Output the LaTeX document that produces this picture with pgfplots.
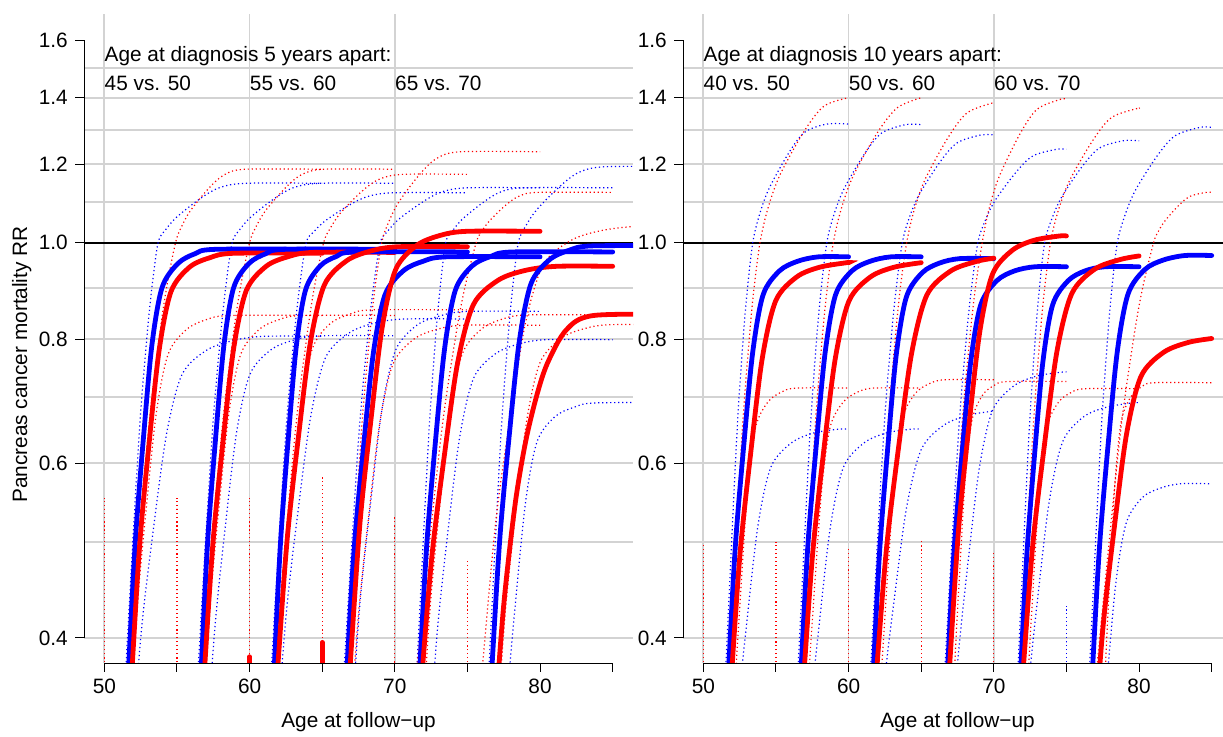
\documentclass[border=0pt]{standalone}
\usepackage{fontspec}
\setmainfont{Liberation Sans}
\usepackage{pgfplots}
\pgfplotsset{compat=1.18}
\definecolor{gridgray}{RGB}{211,211,211}
\tikzset{
  mythk/.style={line width=2.4pt, line cap=round, smooth},
  mytB/.style={mythk, blue},
  mytR/.style={mythk, red},
  mydt/.style={line width=0.6pt, dash pattern=on 0.6pt off 1.4pt, smooth},
  mydB/.style={mydt, blue},
  mydR/.style={mydt, red},
}
\begin{document}
\fontsize{10.4}{12.5}\selectfont
\begin{tikzpicture}
\useasboundingbox (0,0) rectangle (611.5pt,368pt);
% ================= LEFT PANEL =================
\begin{axis}[at={(42pt,36.5pt)}, anchor=south west,
    scale only axis, width=274.5pt, height=324.5pt,
    ymode=log, xmin=48.6, xmax=86.4, ymin=0.3775, ymax=1.70,
    axis x line*=bottom, axis y line*=left,
    axis line style={draw=none},
    tick align=outside, major tick length=4.5pt,
    tick style={black, line width=0.5pt},
    xtick={50,55,60,65,70,75,80,85},
    xticklabels={50,,60,,70,,80,},
    ytick={0.4,0.6,0.8,1.0,1.2,1.4,1.6},
    yticklabels={0.4,0.6,0.8,1.0,1.2,1.4,1.6},
    extra x ticks={50,60,70}, extra x tick labels={},
    extra y ticks={0.4,0.5,0.6,0.7,0.8,0.9,1.1,1.2,1.3,1.4,1.5}, extra y tick labels={},
    extra tick style={grid=major, major tick length=0pt},
    major grid style={draw=gridgray, line width=0.85pt},
    after end axis/.code={
      \draw[line width=0.5pt] (axis cs:50,0.3775) -- (axis cs:85,0.3775);
      \draw[line width=0.5pt] (axis cs:48.6,0.4) -- (axis cs:48.6,1.6);
    }]
\addplot[black, line width=0.7pt, no marks] coordinates {(48.6,1) (86.4,1)};
% spikes
\addplot[mydR, no marks] coordinates {(50,0.3) (50,0.554)};
\addplot[mydR, no marks] coordinates {(55,0.3) (55,0.554)};
\addplot[mydR, no marks] coordinates {(60,0.3) (60,0.554)};
\addplot[mydR, no marks] coordinates {(65,0.3) (65,0.581)};
\addplot[mydR, no marks] coordinates {(70,0.3) (70,0.532)};
\addplot[mydR, no marks] coordinates {(75,0.3) (75,0.481)};
% upper CIs
\addplot[mydB, no marks] coordinates {(51.15,0.30) (51.50,0.378) (52.37,0.633) (52.92,0.8) (53.27,0.9) (53.7,1.0) (54.2,1.030) (55.0,1.062) (56.6,1.108) (57.9,1.136) (59.7,1.148) (65,1.148)};
\addplot[mydR, no marks] coordinates {(51.23,0.30) (51.73,0.378) (52.98,0.633) (53.77,0.8) (54.28,0.9) (54.9,1.0) (55.3,1.037) (55.94,1.078) (57.22,1.136) (58.26,1.171) (59.7,1.186) (65,1.186)};
\addplot[mydB, no marks] coordinates {(56.12,0.30) (56.48,0.378) (57.40,0.633) (57.98,0.8) (58.35,0.9) (58.8,1.0) (59.3,1.030) (60.1,1.062) (61.7,1.108) (63.0,1.136) (64.8,1.148) (70,1.148)};
\addplot[mydR, no marks] coordinates {(56.23,0.30) (56.74,0.378) (58.03,0.633) (58.84,0.8) (59.36,0.9) (60.0,1.0) (60.43,1.037) (61.11,1.078) (62.47,1.136) (63.57,1.171) (65.1,1.186) (70,1.186)};
\addplot[mydB, no marks] coordinates {(61.14,0.30) (61.52,0.378) (62.46,0.633) (63.05,0.8) (63.43,0.9) (63.9,1.0) (64.4,1.025) (65.2,1.052) (66.8,1.090) (68.1,1.113) (69.9,1.123) (75,1.123)};
\addplot[mydR, no marks] coordinates {(61.25,0.30) (61.77,0.378) (63.09,0.633) (63.92,0.8) (64.45,0.9) (65.1,1.0) (65.55,1.034) (66.27,1.072) (67.71,1.126) (68.88,1.158) (70.5,1.172) (75,1.172)};
\addplot[mydB, no marks] coordinates {(66.14,0.30) (66.53,0.378) (67.50,0.633) (68.12,0.8) (68.52,0.9) (69.0,1.0) (69.5,1.027) (70.3,1.057) (71.9,1.099) (73.2,1.125) (75.0,1.136) (80,1.136)};
\addplot[mydR, no marks] coordinates {(66.34,0.30) (66.72,0.378) (67.66,0.633) (68.25,0.8) (68.63,0.9) (69.1,1.0) (69.55,1.047) (70.27,1.099) (71.71,1.172) (72.88,1.216) (74.5,1.235) (80,1.235)};
\addplot[mydB, no marks] coordinates {(71.24,0.30) (71.54,0.378) (72.32,0.633) (72.80,0.8) (73.12,0.9) (73.5,1.0) (73.95,1.027) (74.67,1.057) (76.11,1.099) (77.28,1.125) (78.9,1.136) (85,1.136)};
\addplot[mydR, no marks] coordinates {(70.92,0.30) (71.55,0.378) (73.15,0.633) (74.16,0.8) (74.81,0.9) (75.6,1.0) (75.95,1.025) (76.51,1.052) (77.63,1.091) (78.54,1.114) (79.8,1.124) (85,1.124)};
\addplot[mydB, no marks] coordinates {(76.19,0.30) (76.50,0.378) (77.29,0.633) (77.79,0.8) (78.11,0.9) (78.5,1.0) (79.0,1.039) (79.8,1.081) (81.4,1.141) (82.7,1.178) (84.5,1.193) (90,1.193)};
\addplot[mydR, no marks] coordinates {(75.59,0.312) (76.2,0.399) (76.99,0.530) (77.95,0.668) (79.0,0.831) (80.23,0.951) (82.15,1.006) (84.25,1.029) (86.7,1.039) (90,1.039)};
% lower CIs
\addplot[mydR, no marks] coordinates {(51.35,0.2535) (51.75,0.3245) (52.27,0.431) (52.90,0.543) (53.59,0.676) (54.40,0.773) (55.66,0.818) (57.04,0.837) (58.65,0.845) (65,0.845)};
\addplot[mydB, no marks] coordinates {(51.38,0.2415) (51.9,0.309) (52.58,0.411) (53.4,0.518) (54.3,0.644) (55.35,0.737) (57.0,0.779) (58.8,0.797) (60.9,0.805) (65,0.805)};
\addplot[mydR, no marks] coordinates {(56.35,0.2535) (56.75,0.3245) (57.27,0.431) (57.90,0.543) (58.59,0.676) (59.40,0.773) (60.66,0.818) (62.04,0.837) (63.65,0.845) (70,0.845)};
\addplot[mydB, no marks] coordinates {(56.58,0.242) (57.03,0.3095) (57.62,0.411) (58.33,0.518) (59.11,0.645) (60.02,0.737) (61.45,0.780) (63.01,0.798) (64.83,0.806) (70,0.806)};
\addplot[mydR, no marks] coordinates {(61.42,0.257) (61.8,0.329) (62.30,0.437) (62.9,0.550) (63.56,0.685) (64.33,0.783) (65.54,0.829) (66.86,0.847) (68.4,0.856) (75,0.856)};
\addplot[mydB, no marks] coordinates {(61.39,0.251) (61.9,0.322) (62.55,0.427) (63.35,0.539) (64.22,0.670) (65.24,0.767) (66.83,0.811) (68.57,0.830) (70.6,0.838) (75,0.838)};
\addplot[mydR, no marks] coordinates {(66.45,0.248) (66.9,0.317) (67.49,0.421) (68.2,0.531) (68.98,0.661) (69.89,0.756) (71.32,0.800) (72.88,0.818) (74.7,0.826) (80,0.826)};
\addplot[mydB, no marks] coordinates {(66.56,0.256) (67.02,0.3275) (67.61,0.435) (68.34,0.548) (69.13,0.682) (70.06,0.780) (71.51,0.826) (73.09,0.844) (74.94,0.853) (80,0.853)};
\addplot[mydR, no marks] coordinates {(71.48,0.254) (71.9,0.325) (72.44,0.431) (73.1,0.544) (73.82,0.677) (74.66,0.774) (75.98,0.819) (77.42,0.838) (79.1,0.846) (85,0.846)};
\addplot[mydB, no marks] coordinates {(71.85,0.240) (72.32,0.307) (72.93,0.407) (73.67,0.514) (74.48,0.639) (75.43,0.731) (76.91,0.773) (78.53,0.791) (80.42,0.799) (85,0.799)};
\addplot[mydR, no marks] coordinates {(76.55,0.248) (77.0,0.318) (77.59,0.422) (78.3,0.532) (79.08,0.662) (79.99,0.757) (81.42,0.801) (82.98,0.819) (84.8,0.827) (90,0.827)};
\addplot[mydB, no marks] coordinates {(76.89,0.207) (77.27,0.265) (77.77,0.352) (78.37,0.444) (79.03,0.552) (79.8,0.631) (81.01,0.668) (82.33,0.683) (83.87,0.69) (90,0.69)};
% thick estimates
\addplot[mytR, no marks] coordinates {(60,0.3) (60,0.383)};
\addplot[mytR, no marks] coordinates {(65,0.3) (65,0.396)};
\addplot[mytB, no marks] coordinates {(51.34,0.2955) (51.69,0.378) (52.14,0.502) (52.68,0.633) (53.27,0.788) (53.97,0.901) (55.06,0.953) (56.24,0.975) (57.63,0.985) (65,0.985)};
\addplot[mytR, no marks] coordinates {(51.51,0.293) (51.92,0.375) (52.44,0.498) (53.08,0.628) (53.78,0.781) (54.59,0.893) (55.86,0.945) (57.26,0.966) (58.88,0.976) (65,0.976)};
\addplot[mytB, no marks] coordinates {(56.35,0.2955) (56.69,0.378) (57.12,0.502) (57.65,0.633) (58.23,0.788) (58.90,0.901) (59.95,0.953) (61.11,0.975) (62.45,0.985) (70,0.985)};
\addplot[mytR, no marks] coordinates {(56.49,0.293) (56.92,0.376) (57.48,0.499) (58.16,0.629) (58.90,0.782) (59.77,0.895) (61.14,0.947) (62.62,0.968) (64.36,0.978) (70,0.978)};
\addplot[mytB, no marks] coordinates {(61.38,0.294) (61.71,0.376) (62.13,0.499) (62.64,0.629) (63.20,0.783) (63.85,0.896) (64.87,0.948) (65.99,0.969) (67.29,0.979) (75,0.979)};
\addplot[mytR, no marks] coordinates {(61.49,0.297) (61.98,0.381) (62.60,0.505) (63.36,0.637) (64.18,0.793) (65.15,0.907) (66.67,0.959) (68.32,0.981) (70.26,0.991) (75,0.991)};
\addplot[mytB, no marks] coordinates {(66.30,0.290) (66.70,0.372) (67.21,0.494) (67.84,0.622) (68.52,0.774) (69.32,0.886) (70.58,0.937) (71.94,0.958) (73.54,0.968) (80,0.968)};
\addplot[mytR, no marks] coordinates {(66.56,0.308) (67.02,0.394) (67.61,0.524) (68.34,0.660) (69.13,0.822) (70.06,0.940) (71.51,0.994) (73.09,1.017) (74.94,1.027) (80,1.027)};
\addplot[mytB, no marks] coordinates {(71.36,0.294) (71.73,0.376) (72.21,0.499) (72.79,0.629) (73.43,0.783) (74.17,0.896) (75.33,0.948) (76.61,0.969) (78.09,0.979) (85,0.979)};
\addplot[mytR, no marks] coordinates {(71.31,0.284) (71.85,0.364) (72.55,0.483) (73.40,0.609) (74.33,0.758) (75.42,0.867) (77.12,0.917) (78.98,0.938) (81.15,0.947) (85,0.947)};
\addplot[mytB, no marks] coordinates {(76.32,0.298) (76.72,0.381) (77.24,0.506) (77.87,0.638) (78.56,0.794) (79.37,0.909) (80.63,0.961) (82.01,0.983) (83.62,0.993) (90,0.993)};
\addplot[mytR, no marks] coordinates {(76.36,0.254) (76.86,0.325) (77.50,0.432) (78.28,0.545) (79.0,0.63) (79.75,0.70) (80.5,0.756) (81.8,0.817) (83.7,0.845) (90,0.847)};
% texts
\node[anchor=base west, inner sep=0pt] at (axis cs:50,1.522) {Age at diagnosis 5 years apart:};
\node[anchor=base west, inner sep=0pt] at (axis cs:50,1.423) {45 vs. 50};
\node[anchor=base west, inner sep=0pt] at (axis cs:60,1.423) {55 vs. 60};
\node[anchor=base west, inner sep=0pt] at (axis cs:70,1.423) {65 vs. 70};
\end{axis}
% ================= RIGHT PANEL =================
\begin{axis}[at={(341.5pt,36.5pt)}, anchor=south west,
    scale only axis, width=274.5pt, height=324.5pt,
    ymode=log, xmin=48.6, xmax=86.4, ymin=0.3775, ymax=1.70,
    axis x line*=bottom, axis y line*=left,
    axis line style={draw=none},
    tick align=outside, major tick length=4.5pt,
    tick style={black, line width=0.5pt},
    xtick={50,55,60,65,70,75,80,85},
    xticklabels={50,,60,,70,,80,},
    ytick={0.4,0.6,0.8,1.0,1.2,1.4,1.6},
    yticklabels={0.4,0.6,0.8,1.0,1.2,1.4,1.6},
    extra x ticks={50,60,70}, extra x tick labels={},
    extra y ticks={0.4,0.5,0.6,0.7,0.8,0.9,1.1,1.2,1.3,1.4,1.5}, extra y tick labels={},
    extra tick style={grid=major, major tick length=0pt},
    major grid style={draw=gridgray, line width=0.85pt},
    after end axis/.code={
      \draw[line width=0.5pt] (axis cs:50,0.3775) -- (axis cs:85,0.3775);
      \draw[line width=0.5pt] (axis cs:48.6,0.4) -- (axis cs:48.6,1.6);
    }]
\addplot[black, line width=0.7pt, no marks] coordinates {(48.6,1) (86.4,1)};
% spikes
\addplot[mydR, no marks] coordinates {(50,0.3) (50,0.499)};
\addplot[mydR, no marks] coordinates {(55,0.3) (55,0.500)};
\addplot[mydR, no marks] coordinates {(60,0.3) (60,0.494)};
\addplot[mydR, no marks] coordinates {(65,0.3) (65,0.502)};
\addplot[mydR, no marks] coordinates {(70,0.3) (70,0.488)};
\addplot[mydB, no marks] coordinates {(75,0.3) (75,0.431)};
% upper CIs
\addplot[mydB, no marks] coordinates {(51.27,0.30) (51.56,0.378) (52.29,0.633) (52.74,0.8) (53.04,0.9) (53.4,1.0) (53.83,1.063) (54.51,1.133) (55.87,1.231) (56.97,1.292) (58.5,1.317) (60,1.317)};
\addplot[mydR, no marks] coordinates {(51.48,0.30) (51.81,0.378) (52.64,0.633) (53.16,0.8) (53.49,0.9) (53.9,1.0) (54.43,1.081) (55.27,1.170) (56.95,1.296) (58.31,1.373) (60,1.40)};
\addplot[mydB, no marks] coordinates {(56.24,0.30) (56.54,0.378) (57.32,0.633) (57.80,0.8) (58.12,0.9) (58.5,1.0) (58.95,1.063) (59.67,1.132) (61.11,1.230) (62.28,1.290) (63.9,1.315) (65,1.315)};
\addplot[mydR, no marks] coordinates {(56.45,0.30) (56.79,0.378) (57.64,0.633) (58.18,0.8) (58.53,0.9) (58.95,1.0) (59.48,1.080) (60.32,1.168) (62.0,1.292) (63.36,1.368) (65,1.40)};
\addplot[mydB, no marks] coordinates {(61.20,0.30) (61.54,0.378) (62.39,0.633) (62.93,0.8) (63.28,0.9) (63.7,1.0) (64.15,1.057) (64.87,1.119) (66.31,1.207) (67.48,1.261) (69.1,1.284) (70,1.284)};
\addplot[mydR, no marks] coordinates {(61.43,0.30) (61.77,0.378) (62.65,0.633) (63.21,0.8) (63.56,0.9) (64.0,1.0) (64.5,1.077) (65.3,1.161) (66.9,1.280) (68.2,1.353) (70,1.384)};
\addplot[mydB, no marks] coordinates {(66.3,0.30) (66.65,0.378) (67.54,0.633) (68.1,0.8) (68.46,0.9) (68.9,1.0) (69.35,1.048) (70.07,1.102) (71.51,1.177) (72.68,1.223) (74.3,1.242) (75,1.242)};
\addplot[mydR, no marks] coordinates {(66.39,0.30) (66.77,0.378) (67.73,0.633) (68.34,0.8) (68.73,0.9) (69.2,1.0) (69.65,1.079) (70.37,1.166) (71.81,1.288) (72.98,1.363) (74.6,1.395) (75,1.395)};
\addplot[mydB, no marks] coordinates {(71.39,0.30) (71.68,0.378) (72.40,0.633) (72.85,0.8) (73.14,0.9) (73.5,1.0) (73.95,1.053) (74.67,1.112) (76.11,1.195) (77.28,1.246) (78.9,1.267) (80,1.267)};
\addplot[mydR, no marks] coordinates {(71.53,0.30) (71.85,0.378) (72.66,0.633) (73.17,0.8) (73.50,0.9) (73.9,1.0) (74.4,1.073) (75.2,1.154) (76.8,1.267) (78.1,1.337) (79.9,1.366) (80,1.366)};
\addplot[mydB, no marks] coordinates {(76.32,0.30) (76.61,0.378) (77.36,0.633) (77.83,0.8) (78.13,0.9) (78.5,1.0) (78.98,1.061) (79.74,1.129) (81.26,1.224) (82.49,1.282) (84.2,1.307) (85,1.307)};
\addplot[mydR, no marks] coordinates {(76.53,0.30) (77.13,0.378) (78.66,0.633) (79.62,0.8) (80.24,0.9) (81.0,1.0) (81.3,1.025) (81.78,1.052) (82.74,1.091) (83.52,1.114) (84.6,1.124) (85,1.124)};
% lower CIs
\addplot[mydB, no marks] coordinates {(51.32,0.195) (51.76,0.249) (52.32,0.331) (53.01,0.417) (53.76,0.519) (54.64,0.594) (56.01,0.628) (57.51,0.643) (59.26,0.649) (60,0.649)};
\addplot[mydR, no marks] coordinates {(51.62,0.214) (51.88,0.274) (52.22,0.364) (52.63,0.459) (53.08,0.571) (53.61,0.653) (54.43,0.691) (55.33,0.707) (56.38,0.714) (60,0.714)};
\addplot[mydB, no marks] coordinates {(56.32,0.195) (56.76,0.249) (57.32,0.331) (58.01,0.417) (58.76,0.519) (59.64,0.594) (61.01,0.628) (62.51,0.643) (64.26,0.649) (65,0.649)};
\addplot[mydR, no marks] coordinates {(56.62,0.214) (56.9,0.274) (57.26,0.364) (57.7,0.459) (58.18,0.571) (58.74,0.653) (59.62,0.691) (60.58,0.707) (61.7,0.714) (65,0.714)};
\addplot[mydB, no marks] coordinates {(61.17,0.203) (61.68,0.260) (62.33,0.346) (63.13,0.436) (64.0,0.542) (65.02,0.620) (66.61,0.656) (68.35,0.671) (70,0.677)};
\addplot[mydR, no marks] coordinates {(61.66,0.218) (61.93,0.280) (62.28,0.371) (62.71,0.468) (63.18,0.582) (63.72,0.666) (64.58,0.705) (65.52,0.721) (66.61,0.728) (70,0.728)};
\addplot[mydB, no marks] coordinates {(66.47,0.222) (66.92,0.285) (67.51,0.378) (68.22,0.476) (69.0,0.593) (69.91,0.678) (71.34,0.717) (72.9,0.734) (74.72,0.741) (75,0.741)};
\addplot[mydR, no marks] coordinates {(66.77,0.2175) (67.0,0.278) (67.29,0.370) (67.65,0.466) (68.04,0.580) (68.5,0.663) (69.21,0.702) (69.99,0.718) (70.9,0.725) (75,0.725)};
\addplot[mydB, no marks] coordinates {(71.31,0.207) (71.76,0.265) (72.35,0.352) (73.06,0.444) (73.84,0.552) (74.75,0.631) (76.18,0.668) (77.74,0.683) (79.56,0.69) (80,0.69)};
\addplot[mydR, no marks] coordinates {(71.80,0.214) (72.04,0.274) (72.36,0.364) (72.74,0.458) (73.16,0.570) (73.65,0.652) (74.42,0.690) (75.26,0.706) (76.24,0.713) (80,0.713)};
\addplot[mydB, no marks] coordinates {(76.48,0.172) (76.83,0.220) (77.28,0.292) (77.83,0.368) (78.43,0.458) (79.13,0.523) (80.23,0.554) (81.43,0.566) (82.83,0.572) (85,0.572)};
\addplot[mydR, no marks] coordinates {(77.19,0.217) (77.4,0.278) (77.67,0.369) (78.0,0.465) (78.36,0.578) (78.78,0.662) (79.44,0.700) (80.16,0.716) (81.0,0.723) (85,0.723)};
% thick estimates
\addplot[mytB, no marks] coordinates {(51.38,0.290) (51.74,0.372) (52.20,0.494) (52.77,0.622) (53.39,0.774) (54.11,0.886) (55.24,0.937) (56.48,0.958) (57.92,0.968) (60,0.968)};
\addplot[mytR, no marks] coordinates {(51.48,0.2865) (51.94,0.367) (52.53,0.487) (53.26,0.614) (54.05,0.764) (54.98,0.874) (56.43,0.924) (58.01,0.945) (59.86,0.955) (60,0.955)};
\addplot[mytB, no marks] coordinates {(56.37,0.290) (56.73,0.372) (57.19,0.494) (57.76,0.622) (58.38,0.774) (59.10,0.886) (60.23,0.937) (61.47,0.958) (62.91,0.968) (65,0.968)};
\addplot[mytR, no marks] coordinates {(56.45,0.2865) (56.92,0.367) (57.53,0.487) (58.27,0.614) (59.08,0.764) (60.03,0.874) (61.51,0.924) (63.13,0.945) (65,0.955)};
\addplot[mytB, no marks] coordinates {(61.35,0.289) (61.70,0.370) (62.15,0.492) (62.69,0.620) (63.28,0.771) (63.98,0.882) (65.07,0.933) (66.25,0.954) (67.64,0.964) (70,0.964)};
\addplot[mytR, no marks] coordinates {(61.42,0.290) (61.94,0.372) (62.62,0.494) (63.44,0.622) (64.34,0.774) (65.39,0.886) (67.04,0.937) (68.84,0.958) (70,0.965)};
\addplot[mytB, no marks] coordinates {(66.43,0.284) (66.78,0.363) (67.23,0.482) (67.79,0.608) (68.40,0.757) (69.10,0.866) (70.21,0.916) (71.43,0.937) (72.84,0.946) (75,0.946)};
\addplot[mytR, no marks] coordinates {(66.59,0.305) (67.03,0.390) (67.59,0.518) (68.28,0.653) (69.03,0.813) (69.91,0.930) (71.28,0.983) (72.78,1.006) (74.53,1.016) (75,1.016)};
\addplot[mytB, no marks] coordinates {(71.48,0.284) (71.82,0.363) (72.26,0.482) (72.79,0.608) (73.37,0.757) (74.05,0.866) (75.12,0.916) (76.28,0.937) (77.64,0.946) (80,0.946)};
\addplot[mytR, no marks] coordinates {(71.52,0.292) (72.03,0.373) (72.68,0.496) (73.48,0.625) (74.35,0.778) (75.37,0.889) (76.96,0.941) (78.70,0.962) (80,0.970)};
\addplot[mytB, no marks] coordinates {(76.43,0.291) (76.80,0.373) (77.28,0.495) (77.86,0.624) (78.50,0.777) (79.24,0.888) (80.40,0.940) (81.68,0.961) (83.16,0.971) (85,0.971)};
\addplot[mytR, no marks] coordinates {(76.37,0.241) (76.87,0.308) (77.51,0.409) (78.29,0.516) (79.14,0.642) (80.14,0.734) (81.70,0.776) (83.40,0.794) (85,0.801)};
% texts
\node[anchor=base west, inner sep=0pt] at (axis cs:50,1.522) {Age at diagnosis 10 years apart:};
\node[anchor=base west, inner sep=0pt] at (axis cs:50,1.423) {40 vs. 50};
\node[anchor=base west, inner sep=0pt] at (axis cs:60,1.423) {50 vs. 60};
\node[anchor=base west, inner sep=0pt] at (axis cs:70,1.423) {60 vs. 70};
\end{axis}
\node[anchor=base] at (179.25pt,4.25pt) {Age at follow−up};
\node[anchor=base] at (478.75pt,4.25pt) {Age at follow−up};
\node[rotate=90, anchor=base] at (13.5pt,185.75pt) {Pancreas cancer mortality RR};
\end{tikzpicture}
\end{document}
